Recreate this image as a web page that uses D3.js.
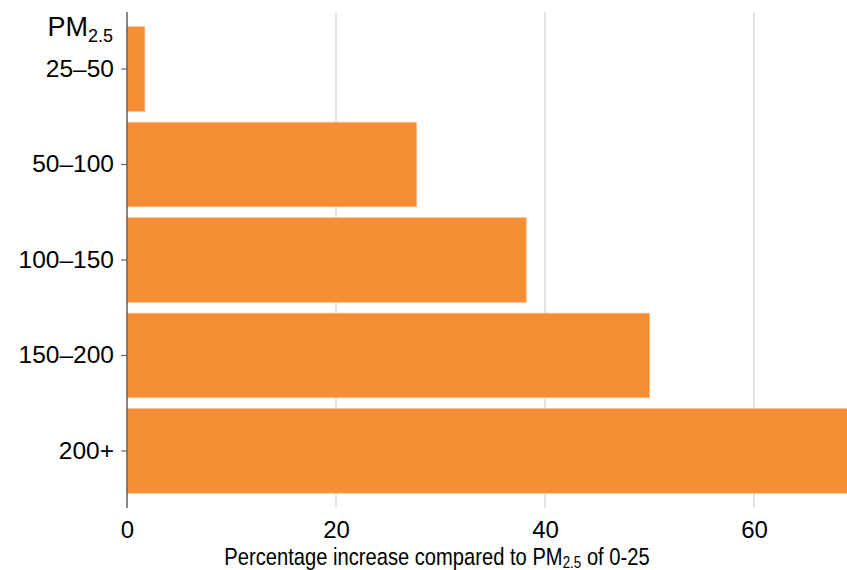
<!DOCTYPE html>
<html>
<head>
<meta charset="utf-8">
<script src="https://cdn.jsdelivr.net/npm/d3@7"></script>
<style>
  html, body { margin: 0; padding: 0; background: #fff; }
  svg { display: block; }
  text { font-family: "Liberation Sans", Arial, Helvetica, sans-serif; fill: #000; }
</style>
</head>
<body>
<svg id="chart" width="847" height="570"></svg>
<script>
const categories = ["25–50", "50–100", "100–150", "150–200", "200+"];
const values = [1.7, 27.7, 38.2, 50.0, 70.0];
const xTicks = [0, 20, 40, 60];
const xTitleMain = "Percentage increase compared to PM";
const xTitleSub = "2.5";
const xTitleEnd = " of 0-25";

const W = 847, H = 570;
const svg = d3.select("#chart");

const x = d3.scaleLinear().domain([0, 60]).range([127, 754]);
const y = d3.scaleBand().domain(categories).range([12, 508])
  .paddingInner(0.115).paddingOuter(0.155);

// gridlines
svg.append("g").selectAll("line").data(xTicks.filter(d => d > 0)).join("line")
  .attr("x1", d => x(d)).attr("x2", d => x(d))
  .attr("y1", 12).attr("y2", 508)
  .attr("stroke", "#d4d4d4").attr("stroke-width", 1.2);

// bars
svg.append("g").selectAll("rect").data(categories).join("rect")
  .attr("x", x(0))
  .attr("y", d => y(d))
  .attr("width", (d, i) => x(values[i]) - x(0))
  .attr("height", y.bandwidth())
  .attr("fill", "#f68e36")
  .attr("stroke", "#fbb57c").attr("stroke-width", 0.8);

// y axis
const yAxis = d3.axisLeft(y).tickSize(6).tickPadding(7).tickSizeOuter(0);
const gy = svg.append("g").attr("transform", `translate(${x(0)},0)`).call(yAxis);
gy.select(".domain").attr("stroke", "#666").attr("stroke-width", 1.6)
  .attr("d", "M0,12V508");
gy.selectAll(".tick line").attr("stroke", "#666").attr("stroke-width", 1.2);
gy.selectAll(".tick text").attr("font-size", 24.5).attr("fill", "#000")
  .style("font-family", "'Liberation Sans', Arial, sans-serif");

// x axis (labels only)
const xAxis = d3.axisBottom(x).tickValues(xTicks).tickSize(0).tickPadding(13).tickFormat(d3.format("d"));
const gx = svg.append("g").attr("transform", `translate(0,508)`).call(xAxis);
gx.select(".domain").remove();
gx.selectAll(".tick text").attr("font-size", 24).attr("fill", "#000")
  .style("font-family", "'Liberation Sans', Arial, sans-serif");

// PM2.5 label top-left
const pm = svg.append("text").attr("x", 113).attr("y", 36).attr("text-anchor", "end")
  .attr("font-size", 27);
pm.append("tspan").text("PM");
pm.append("tspan").attr("font-size", 18).attr("dy", 6).text("2.5");

// x title (slightly condensed to match reference)
const t = svg.append("text")
  .attr("transform", "translate(437,565) scale(0.84,1)")
  .attr("text-anchor", "middle")
  .attr("font-size", 24);
t.append("tspan").text(xTitleMain);
t.append("tspan").attr("font-size", 16).attr("dy", 3).text(xTitleSub);
t.append("tspan").attr("dy", -3).text(xTitleEnd);
</script>
</body>
</html>
